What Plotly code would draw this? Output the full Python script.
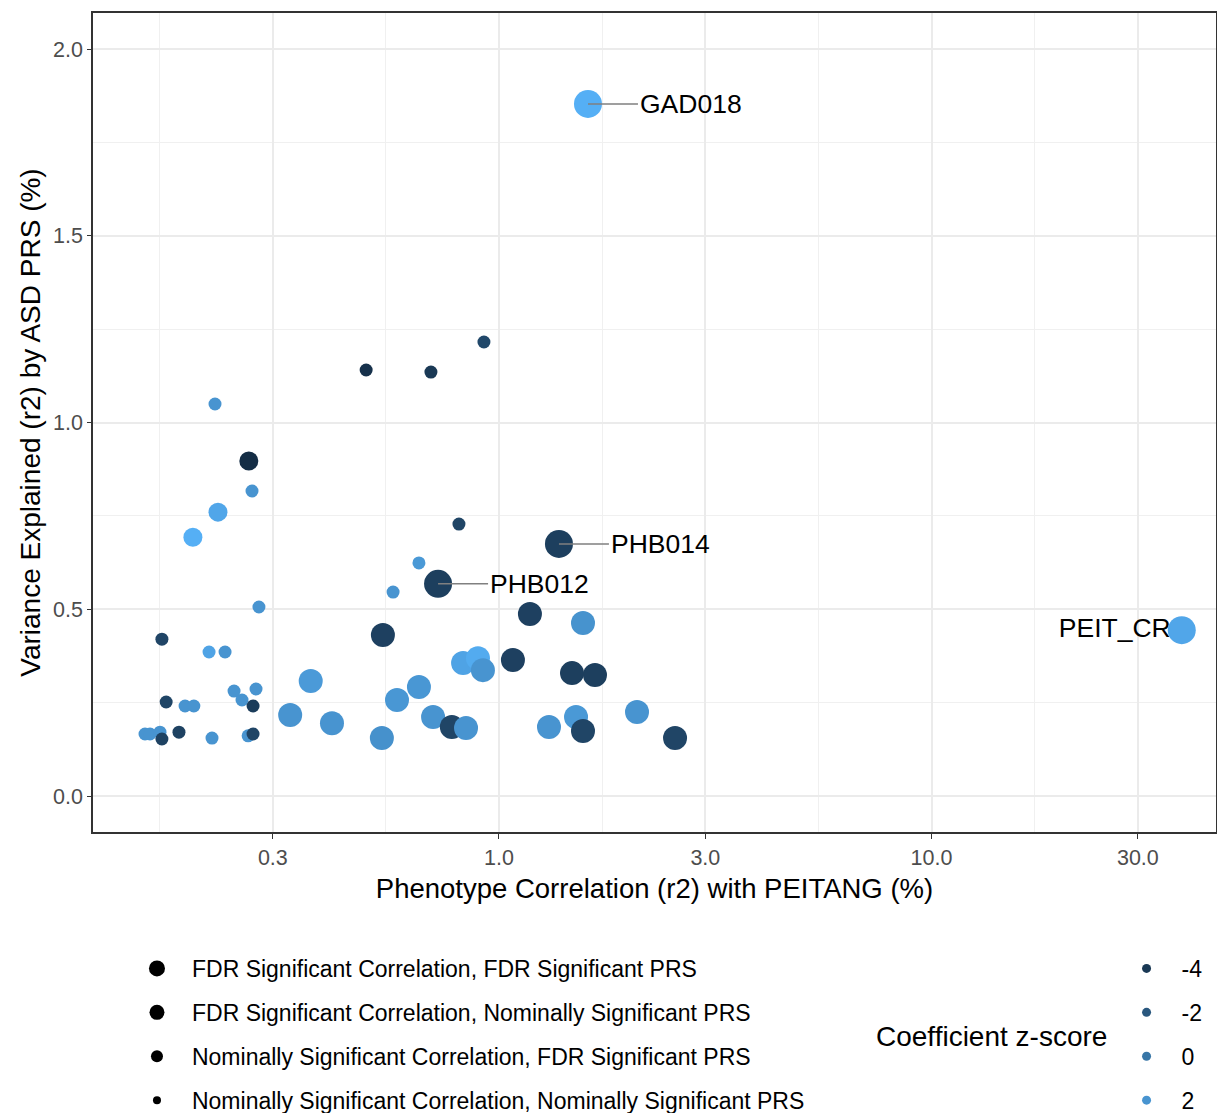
import numpy as np
import plotly.graph_objects as go
from plotly.colors import sample_colorscale

# values
corr_r2 = [1.606, 1.376, 0.723, 37.9,
           0.539, 1.179, 1.564, 0.826, 0.894, 0.918, 1.077, 1.475, 1.667, 0.367,
           0.653, 0.581, 0.329, 0.411, 0.704, 0.778, 0.839, 0.536, 1.305, 1.507,
           1.564, 2.085, 2.553,
           0.264, 0.224, 0.196,
           0.923, 0.493, 0.696, 0.2205, 0.2685, 0.808, 0.653, 0.569, 0.2786, 0.1662,
           0.2136, 0.2326, 0.244, 0.2743, 0.170, 0.188, 0.197, 0.2546, 0.270, 0.1519,
           0.156, 0.1645, 0.1662, 0.182, 0.217, 0.263, 0.270]
prs_r2 = [1.853, 0.675, 0.568, 0.444,
          0.431, 0.487, 0.463, 0.356, 0.369, 0.337, 0.364, 0.329, 0.324, 0.308,
          0.292, 0.257, 0.217, 0.195, 0.2115, 0.185, 0.182, 0.155, 0.185, 0.2115,
          0.174, 0.225, 0.155,
          0.897, 0.760, 0.693,
          1.2155, 1.1406, 1.135, 1.0495, 0.8166, 0.728, 0.624, 0.546, 0.506, 0.420,
          0.3855, 0.3855, 0.281, 0.2865, 0.2517, 0.241, 0.241, 0.257, 0.241, 0.166,
          0.166, 0.171, 0.1526, 0.171, 0.155, 0.161, 0.166]
z_score = [3.8, -3.6, -3.6, 3.2,
           -3.5, -3.5, 1.9, 3.0, 3.5, 2.0, -3.5, -3.6, -3.6, 2.4,
           2.2, 2.2, 2.0, 2.0, 2.0, -3.2, 2.0, 1.8, 2.0, 2.3,
           -3.2, 2.0, -3.2,
           -4.8, 3.2, 3.8,
           -3.0, -4.5, -4.0, 2.0, 2.0, -3.2, 2.3, 2.0, 2.0, -3.2,
           3.0, 2.0, 2.0, 2.0, -3.2, 2.0, 2.0, 2.0, -3.8, 2.0,
           2.0, 2.0, -3.4, -3.4, 2.0, 2.0, -3.2]
sig_group = [0, 0, 0, 0] + [1] * 23 + [2] * 3 + [3] * 27
point_label = ["GAD018", "PHB014", "PHB012", "PEIT_CR"] + [""] * 53

group_names = ["FDR Significant Correlation, FDR Significant PRS",
               "FDR Significant Correlation, Nominally Significant PRS",
               "Nominally Significant Correlation, FDR Significant PRS",
               "Nominally Significant Correlation, Nominally Significant PRS"]
z_legend = [-4, -2, 0, 2]

x_breaks = [0.3, 1.0, 3.0, 10.0, 30.0]
y_breaks = [0.0, 0.5, 1.0, 1.5, 2.0]

FONT = "Liberation Sans"
colorscale = [[0, "#132B43"], [1, "#56B1F7"]]
cmin, cmax = -4.9, 3.9
point_sizes = [28, 24, 19, 13]
legend_sizes = [16, 15, 12, 8]

fig = go.Figure()

# PEIT_CR label sits under its point (invisible marker pushes the text left)
for xi, yi, lab in zip(corr_r2, prs_r2, point_label):
    if lab == "PEIT_CR":
        fig.add_trace(go.Scatter(x=[xi], y=[yi], mode="markers+text", text=[lab],
                                 textposition="middle left",
                                 marker=dict(size=16, opacity=0),
                                 textfont=dict(family=FONT, size=26.5, color="black"),
                                 showlegend=False, hoverinfo="skip"))

fig.add_trace(go.Scatter(
    x=corr_r2, y=prs_r2, mode="markers", showlegend=False,
    marker=dict(size=[point_sizes[g] for g in sig_group], color=z_score,
                colorscale=colorscale, cmin=cmin, cmax=cmax, opacity=1,
                line=dict(width=0))))

for xi, yi, lab in zip(corr_r2, prs_r2, point_label):
    if lab and lab != "PEIT_CR":
        fig.add_annotation(x=np.log10(xi), y=yi, text=lab, showarrow=True,
                           arrowhead=0, arrowwidth=1.5, arrowcolor="#808080",
                           ax=50, ay=0, xanchor="left",
                           font=dict(family=FONT, size=26.5, color="black"))

for g, name in enumerate(group_names):
    fig.add_trace(go.Scatter(x=[None], y=[None], mode="markers", name=name,
                             legend="legend", legendgroup="s%d" % g,
                             marker=dict(color="black", size=legend_sizes[g])))

for z in z_legend:
    col = sample_colorscale(colorscale, [(z - cmin) / (cmax - cmin)])[0]
    fig.add_trace(go.Scatter(x=[None], y=[None], mode="markers", name=str(z),
                             legend="legend2", legendgroup="z%d" % z,
                             marker=dict(color=col, size=9)))

lb = np.log10(x_breaks)
minor_logs = [lb[0] - (lb[1] - lb[0]) / 2] + list((lb[:-1] + lb[1:]) / 2)
x_minor = [10 ** v for v in minor_logs]

fig.add_annotation(text="Coefficient z-score", xref="paper", yref="paper",
                   x=0.8005, y=-0.2503, xanchor="center", yanchor="middle",
                   showarrow=False,
                   font=dict(family=FONT, size=28, color="black"))

fig.update_layout(
    width=1217, height=1113,
    margin=dict(l=93, r=1, t=13, b=281, autoexpand=False),
    plot_bgcolor="white", paper_bgcolor="white",
    font=dict(family=FONT, color="black"),
    xaxis=dict(type="log", range=[-0.9387, 1.6578],
               tickvals=x_breaks, ticktext=["%.1f" % v for v in x_breaks],
               tickfont=dict(size=21.5, color="#4D4D4D"),
               ticks="outside", ticklen=5, tickcolor="#333333",
               showgrid=True, gridcolor="#EBEBEB", gridwidth=1.5,
               minor=dict(tickvals=x_minor, showgrid=True,
                          gridcolor="#F0F0F0", gridwidth=1),
               showline=True, mirror=True, linecolor="#333333", linewidth=1.5,
               zeroline=False,
               title=dict(text="Phenotype Correlation (r2) with PEITANG (%)",
                          font=dict(size=27.5, color="black"), standoff=10)),
    yaxis=dict(range=[-0.0964, 2.0964],
               tickvals=y_breaks, ticktext=["%.1f" % v for v in y_breaks],
               tickfont=dict(size=21.5, color="#4D4D4D"),
               ticks="outside", ticklen=4, tickcolor="#333333",
               showgrid=True, gridcolor="#EBEBEB", gridwidth=1.5,
               minor=dict(tickvals=[0.25, 0.75, 1.25, 1.75], showgrid=True,
                          gridcolor="#F0F0F0", gridwidth=1),
               showline=True, mirror=True, linecolor="#333333", linewidth=1.5,
               zeroline=False,
               title=dict(text="Variance Explained (r2) by ASD PRS (%)",
                          font=dict(size=28, color="black"), standoff=4)),
    legend=dict(x=0.0258, y=-0.1404, xanchor="left", yanchor="top",
                font=dict(family=FONT, size=23, color="black"),
                itemsizing="trace", itemwidth=60, tracegroupgap=11,
                bgcolor="rgba(0,0,0,0)"),
    legend2=dict(x=0.907, y=-0.1404, xanchor="left", yanchor="top",
                 font=dict(family=FONT, size=23, color="black"),
                 itemsizing="trace", itemwidth=60, tracegroupgap=11,
                 bgcolor="rgba(0,0,0,0)"),
)

fig.write_html("out.html", config={"displayModeBar": False},
               post_script="document.body.style.margin='0px';")
